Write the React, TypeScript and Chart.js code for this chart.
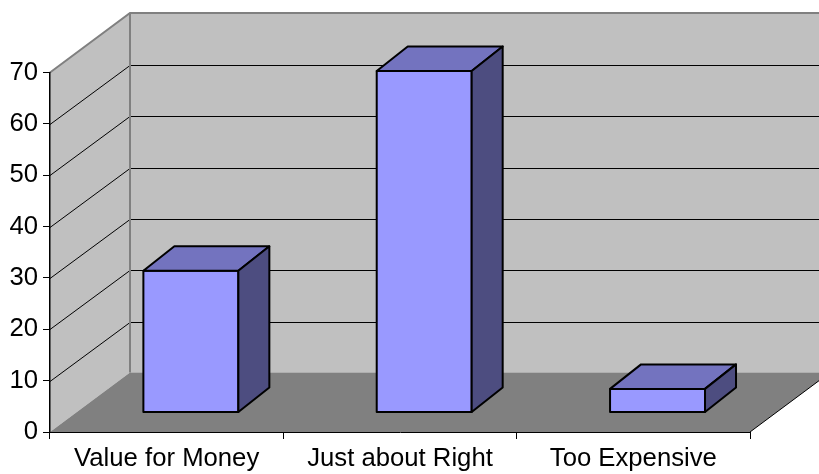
import React, { useEffect, useRef } from "react";
import { Chart, registerables } from "chart.js";

Chart.register(...registerables);

const categories = ["Value for Money", "Just about Right", "Too Expensive"];
const values = [27.6, 66.5, 4.6];
const yMin = 0;
const yMax = 70;
const yStep = 10;

const FONT = "'Liberation Sans', Arial, sans-serif";

const DEPTH_X = 80;
const DEPTH_Y = -59.5;
const BAR_OFF_X = 24.2;
const BAR_OFF_Y = -19.5;
const BAR_DEPTH_X = 31;
const BAR_DEPTH_Y = -24.5;

function poly(ctx: CanvasRenderingContext2D, pts: number[][]) {
  ctx.beginPath();
  ctx.moveTo(pts[0][0], pts[0][1]);
  for (let i = 1; i < pts.length; i++) ctx.lineTo(pts[i][0], pts[i][1]);
  ctx.closePath();
}

const wallsPlugin = {
  id: "walls3d",
  beforeDraw(chart: any) {
    const { ctx, chartArea, scales } = chart;
    const { left, right, top, bottom } = chartArea;
    const y = scales.y;
    const W = chart.width + 100;
    ctx.save();
    // back wall
    ctx.fillStyle = "#C0C0C0";
    ctx.fillRect(left + DEPTH_X, top + DEPTH_Y, W, bottom - top);
    // left wall
    poly(ctx, [
      [left, top],
      [left + DEPTH_X, top + DEPTH_Y],
      [left + DEPTH_X, bottom + DEPTH_Y],
      [left, bottom],
    ]);
    ctx.fill();
    // floor
    ctx.fillStyle = "#808080";
    poly(ctx, [
      [left, bottom],
      [right, bottom],
      [right + DEPTH_X, bottom + DEPTH_Y],
      [left + DEPTH_X, bottom + DEPTH_Y],
    ]);
    ctx.fill();
    // gridlines
    ctx.strokeStyle = "#000000";
    ctx.lineWidth = 1;
    for (const t of y.ticks) {
      const v = t.value;
      if (v <= yMin || v >= yMax) continue;
      const py = Math.round(y.getPixelForValue(v)) + 0.5;
      const by = Math.round(py + DEPTH_Y) + 0.5;
      ctx.beginPath();
      ctx.moveTo(left, py);
      ctx.lineTo(left + DEPTH_X, by);
      ctx.lineTo(W, by);
      ctx.stroke();
    }
    // wall edges
    ctx.strokeStyle = "#808080";
    ctx.lineWidth = 2;
    ctx.beginPath();
    ctx.moveTo(left, top);
    ctx.lineTo(left + DEPTH_X, top + DEPTH_Y);
    ctx.lineTo(W, top + DEPTH_Y);
    ctx.moveTo(left + DEPTH_X, top + DEPTH_Y);
    ctx.lineTo(left + DEPTH_X, bottom + DEPTH_Y);
    ctx.stroke();
    // floor right edge
    ctx.strokeStyle = "#000000";
    ctx.lineWidth = 1;
    ctx.beginPath();
    ctx.moveTo(right, bottom);
    ctx.lineTo(right + DEPTH_X, bottom + DEPTH_Y);
    ctx.stroke();
    ctx.restore();
  },
  afterDatasetsDraw(chart: any) {
    const { ctx } = chart;
    const meta = chart.getDatasetMeta(0);
    ctx.save();
    ctx.lineWidth = 2;
    ctx.lineJoin = "round";
    ctx.strokeStyle = "#000000";
    meta.data.forEach((el: any) => {
      const L = el.x - el.width / 2 + BAR_OFF_X;
      const R = el.x + el.width / 2 + BAR_OFF_X;
      const T = el.y + BAR_OFF_Y;
      const B = el.base + BAR_OFF_Y;
      const front = [
        [L, T],
        [R, T],
        [R, B],
        [L, B],
      ];
      const topFace = [
        [L, T],
        [R, T],
        [R + BAR_DEPTH_X, T + BAR_DEPTH_Y],
        [L + BAR_DEPTH_X, T + BAR_DEPTH_Y],
      ];
      const side = [
        [R, T],
        [R + BAR_DEPTH_X, T + BAR_DEPTH_Y],
        [R + BAR_DEPTH_X, B + BAR_DEPTH_Y],
        [R, B],
      ];
      ctx.fillStyle = "#9999FF";
      poly(ctx, front);
      ctx.fill();
      ctx.stroke();
      ctx.fillStyle = "#7373BF";
      poly(ctx, topFace);
      ctx.fill();
      ctx.stroke();
      ctx.fillStyle = "#4D4D80";
      poly(ctx, side);
      ctx.fill();
      ctx.stroke();
    });
    ctx.restore();
  },
};

export default function App() {
  const ref = useRef<HTMLCanvasElement | null>(null);
  useEffect(() => {
    document.body.style.margin = "0";
    const canvas = ref.current;
    if (!canvas) return;
    const chart = new Chart(canvas, {
      type: "bar",
      data: {
        labels: categories,
        datasets: [
          {
            data: values,
            backgroundColor: "rgba(0,0,0,0)",
            borderWidth: 0,
            categoryPercentage: 1,
            barPercentage: 0.407,
          },
        ],
      },
      options: {
        responsive: false,
        animation: false,
        events: [],
        layout: { padding: { top: 72.5, right: 69, left: 0, bottom: 0 } },
        plugins: { legend: { display: false }, tooltip: { enabled: false } },
        scales: {
          x: {
            type: "category",
            offset: true,
            grid: {
              display: true,
              drawOnChartArea: false,
              drawTicks: true,
              tickLength: 7,
              color: "#000000",
              offset: true,
            },
            border: { display: true, color: "#000000", width: 1 },
            ticks: {
              color: "#000000",
              font: { family: FONT, size: 25.7 },
              padding: 4,
              maxRotation: 0,
              autoSkip: false,
            },
            afterFit: (s: any) => {
              s.height = 42;
            },
          },
          y: {
            min: yMin,
            max: yMax,
            grid: {
              display: true,
              drawOnChartArea: false,
              drawTicks: true,
              tickLength: 7,
              color: "#000000",
            },
            border: { display: true, color: "#000000", width: 1.5 },
            ticks: {
              stepSize: yStep,
              color: "#000000",
              font: { family: FONT, size: 25.7 },
              padding: 5,
            },
            afterFit: (s: any) => {
              s.width = 50;
            },
          },
        },
      },
      plugins: [wallsPlugin],
    });
    return () => chart.destroy();
  }, []);
  return (
    <div style={{ position: "absolute", left: 0, top: 0, width: 819, height: 474, background: "#ffffff" }}>
      <canvas ref={ref} width={819} height={474} style={{ display: "block" }} />
    </div>
  );
}
